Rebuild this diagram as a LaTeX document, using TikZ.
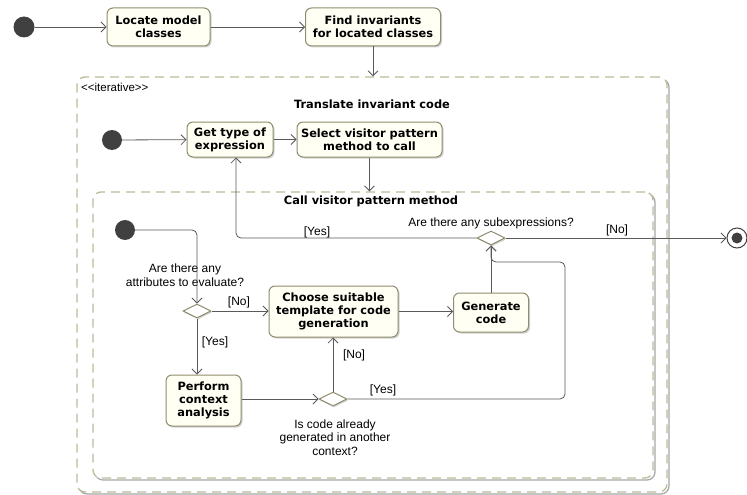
\documentclass[tikz,border=0pt]{standalone}
\usepackage{fontspec}
\setmainfont{Liberation Sans}
\newfontfamily\actfont{DejaVu Sans}
\usetikzlibrary{arrows.meta,shapes.geometric,shadows}

\definecolor{actborder}{HTML}{8F8D6E}
\definecolor{actfill}{HTML}{FFFFF4}
\definecolor{regborder}{HTML}{BDB99A}
\definecolor{flowcol}{HTML}{5A5A5A}
\definecolor{dotcol}{HTML}{404040}

\begin{document}
\begin{tikzpicture}[x=1pt,y=-1pt,
  action/.style={rectangle, draw=actborder, fill=actfill, line width=1pt,
    rounded corners=6pt, align=center, inner sep=0pt,
    font=\actfont\bfseries\fontsize{11.4}{12.8}\selectfont,
    drop shadow={shadow xshift=1.5pt, shadow yshift=-1.5pt, fill=black!40, opacity=.45}},
  region/.style={rectangle, draw=regborder, dash pattern=on 9pt off 6pt,
    line width=1.3pt, rounded corners=8pt, fill=white, inner sep=0pt,
    drop shadow={shadow xshift=2pt, shadow yshift=-2pt, fill=none,
      draw=black!35, solid, line width=1.2pt, opacity=1}},
  decision/.style={diamond, shape aspect=2, draw=actborder, fill=white,
    line width=1pt, minimum width=28pt, minimum height=14pt, inner sep=0pt,
    drop shadow={shadow xshift=1pt, shadow yshift=-1.5pt, fill=black!40, opacity=.45}},
  initial/.style={circle, fill=dotcol, minimum size=21pt, inner sep=0pt},
  final/.style={circle, draw=dotcol, fill=white, line width=1pt,
    minimum size=20pt, inner sep=0pt,
    path picture={\fill[dotcol] (path picture bounding box.center) circle (5.5pt);}},
  flow/.style={draw=flowcol, line width=0.8pt, rounded corners=5pt,
    -{Straight Barb[length=5pt,width=10pt]}},
  note/.style={font=\fontsize{12}{13.5}\selectfont, align=center, inner sep=0pt},
  guard/.style={font=\fontsize{12}{13.5}\selectfont, inner sep=0pt},
  title/.style={font=\actfont\bfseries\fontsize{11.4}{13}\selectfont, inner sep=0pt},
  stereo/.style={font=\fontsize{11.5}{13}\selectfont, inner sep=0pt, anchor=west}
]
\useasboundingbox (0,0) rectangle (747,495);

% regions
\node[region, minimum width=590pt, minimum height=415pt] (outer) at (372,284.5) {};
\node[region, minimum width=560pt, minimum height=286pt] (inner) at (373,335) {};
\node[stereo] (iterlbl) at (81,87) {{<}{<}iterative{>}{>}};
\node[title] (outertitle) at (372,104) {Translate invariant code};
\node[title] (innertitle) at (371,201) {Call visitor pattern method};

% top level flow
\node[initial] (start1) at (24,27) {};
\node[action, minimum width=103pt, minimum height=38pt] (loc) at (158.5,27) {Locate model\\classes};
\node[action, minimum width=135pt, minimum height=38pt] (find) at (373,27) {Find invariants\\for located classes};

% iterative region content
\node[initial, minimum size=20pt] (start2) at (112,140) {};
\node[action, minimum width=86pt, minimum height=35pt] (get) at (230,139.5) {Get type of\\expression};
\node[action, minimum width=145pt, minimum height=35pt] (sel) at (369.5,139.5) {Select visitor pattern\\method to call};

% visitor method content
\node[initial, minimum size=20pt] (start3) at (125,230) {};
\node[decision] (d1) at (197,311) {};
\node[action, minimum width=129pt, minimum height=51pt] (choose) at (333.5,311.5) {Choose suitable\\template for code\\generation};
\node[action, minimum width=75pt, minimum height=39pt] (gen) at (491,312.5) {Generate\\code};
\node[decision] (d2) at (491,238) {};
\node[action, minimum width=75pt, minimum height=51pt] (perform) at (203.5,400.5) {Perform\\context\\analysis};
\node[decision] (d3) at (333,399) {};
\node[final] (final) at (737,238) {};

% decision texts
\node[note] (q2) at (491,223) {Are there any subexpressions?};
\node[note] (q1) at (185,275) {Are there any\\attributes to evaluate?};
\node[note] (q3) at (335,437.5) {Is code already\\generated in another\\context?};

% connectors
\draw[flow] (start1) -- (loc);
\draw[flow] (loc) -- (find);
\draw[flow] (find.south) -- (find.south |- outer.north);
\draw[flow] (start2) -- (get);
\draw[flow] (get) -- (sel);
\draw[flow] (sel.south) -- (sel.south |- inner.north);
\draw[flow] (start3.east) -| (d1.north);
\draw[flow] (d1.east) -- (choose.west |- d1);
\draw[flow] (d1.south) -- (d1.south |- perform.north);
\draw[flow] (perform.east |- d3) -- (d3.west);
\draw[flow] (d3.north) -- (d3.north |- choose.south);
\draw[flow] (choose.east) -- (choose.east -| gen.west);
\draw[flow] (gen.north) -- (d2.south);
\coordinate (loopturn) at (565,262);
\draw[flow] (d3.east) -| (loopturn) -| (d2.south);
\draw[flow] (d2.west) -| ([xshift=6pt]get.south);
\draw[flow] (d2.east) -- (final.west);

% guards
\node[guard] (g1) at (317,232) {[Yes]};
\node[guard] (g2) at (617,230) {[No]};
\node[guard] (g3) at (239,302) {[No]};
\node[guard] (g4) at (215,342) {[Yes]};
\node[guard] (g5) at (354,355) {[No]};
\node[guard] (g6) at (383,390) {[Yes]};
\end{tikzpicture}
\end{document}
